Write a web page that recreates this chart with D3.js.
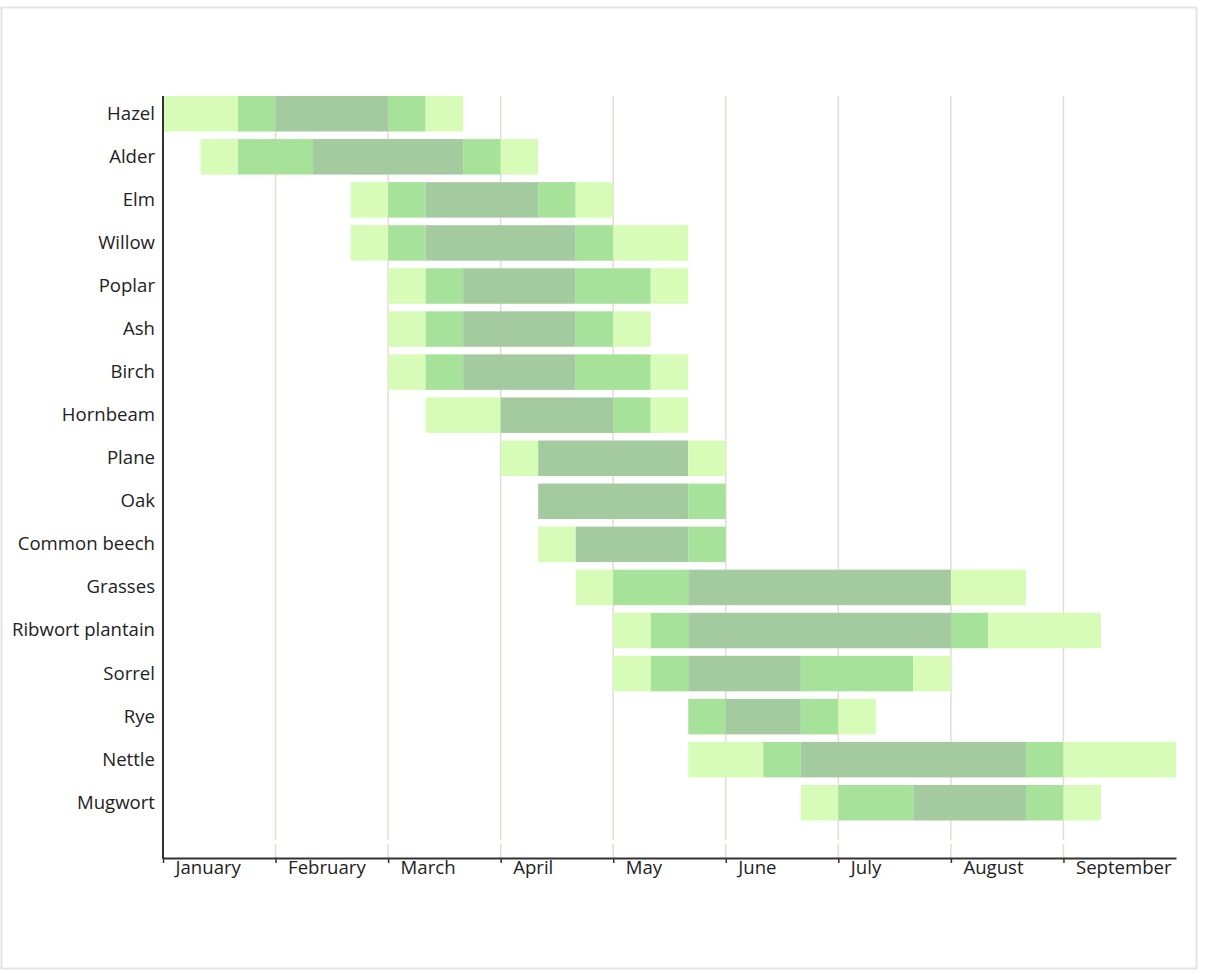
<!DOCTYPE html>
<html>
<head>
<meta charset="utf-8">
<script src="https://cdn.jsdelivr.net/npm/d3@7"></script>
<style>
  html, body { margin: 0; padding: 0; background: #fff; }
  svg { display: block; font-family: "Open Sans", "Noto Sans", sans-serif; }
</style>
</head>
<body>
<svg id="chart" width="1220" height="974"></svg>
<script>
// Months on the x axis (each month divided into thirds)
const months = ["January", "February", "March", "April", "May", "June", "July", "August", "September"];

// Plants (rows)
const plants = ["Hazel", "Alder", "Elm", "Willow", "Poplar", "Ash", "Birch", "Hornbeam", "Plane", "Oak",
  "Common beech", "Grasses", "Ribwort plantain", "Sorrel", "Rye", "Nettle", "Mugwort"];

// Intensity levels: 1 = low, 2 = medium, 3 = high
const levels = [1, 2, 3];

// Pollen seasons per plant: [start third-of-month, end third-of-month, level]
const hazel    = [[0, 2, 1], [2, 3, 2], [3, 6, 3], [6, 7, 2], [7, 8, 1]];
const alder    = [[1, 2, 1], [2, 4, 2], [4, 8, 3], [8, 9, 2], [9, 10, 1]];
const elm      = [[5, 6, 1], [6, 7, 2], [7, 10, 3], [10, 11, 2], [11, 12, 1]];
const willow   = [[5, 6, 1], [6, 7, 2], [7, 11, 3], [11, 12, 2], [12, 14, 1]];
const poplar   = [[6, 7, 1], [7, 8, 2], [8, 11, 3], [11, 13, 2], [13, 14, 1]];
const ash      = [[6, 7, 1], [7, 8, 2], [8, 11, 3], [11, 12, 2], [12, 13, 1]];
const birch    = [[6, 7, 1], [7, 8, 2], [8, 11, 3], [11, 13, 2], [13, 14, 1]];
const hornbeam = [[7, 9, 1], [9, 12, 3], [12, 13, 2], [13, 14, 1]];
const plane    = [[9, 10, 1], [10, 14, 3], [14, 15, 1]];
const oak      = [[10, 14, 3], [14, 15, 2]];
const beech    = [[10, 11, 1], [11, 14, 3], [14, 15, 2]];
const grasses  = [[11, 12, 1], [12, 14, 2], [14, 21, 3], [21, 23, 1]];
const ribwort  = [[12, 13, 1], [13, 14, 2], [14, 21, 3], [21, 22, 2], [22, 25, 1]];
const sorrel   = [[12, 13, 1], [13, 14, 2], [14, 17, 3], [17, 20, 2], [20, 21, 1]];
const rye      = [[14, 15, 2], [15, 17, 3], [17, 18, 2], [18, 19, 1]];
const nettle   = [[14, 16, 1], [16, 17, 2], [17, 23, 3], [23, 24, 2], [24, 27, 1]];
const mugwort  = [[17, 18, 1], [18, 20, 2], [20, 23, 3], [23, 24, 2], [24, 25, 1]];

const seasons = [hazel, alder, elm, willow, poplar, ash, birch, hornbeam, plane, oak,
  beech, grasses, ribwort, sorrel, rye, nettle, mugwort];

// ---- drawing ----
const svg = d3.select("#chart");

svg.append("rect")
  .attr("x", 1.5).attr("y", 7.5)
  .attr("width", 1195).attr("height", 961)
  .attr("fill", "none").attr("stroke", "#e3e3e3").attr("stroke-width", 2);

const plotLeft = 163, plotRight = 1176, plotTop = 96, axisY = 858;

const x = d3.scaleLinear().domain([0, months.length * 3]).range([plotLeft, plotRight]);
const y = d3.scaleBand().domain(plants).range([plotTop, 820.5]).paddingInner(0.1756).paddingOuter(0);
const color = d3.scaleOrdinal().domain(levels).range(["#d7fcb8", "#a7e29b", "#a4caa0"]);

const monthTicks = d3.range(0, months.length * 3, 3);

// gridlines
const grid = svg.append("g");
monthTicks.slice(1).forEach(t => {
  grid.append("line")
    .attr("x1", x(t)).attr("x2", x(t))
    .attr("y1", plotTop).attr("y2", 840)
    .attr("stroke", "#e8dad3").attr("stroke-width", 1.5);
  grid.append("line")
    .attr("x1", x(t)).attr("x2", x(t))
    .attr("y1", 844).attr("y2", axisY)
    .attr("stroke", "#e8dad3").attr("stroke-width", 1.5);
});

// bars
const rows = svg.append("g").selectAll("g")
  .data(plants.map((p, i) => ({ plant: p, segs: seasons[i] })))
  .join("g");

rows.selectAll("rect")
  .data(d => d.segs.map(s => ({ plant: d.plant, start: s[0], end: s[1], level: s[2] })))
  .join("rect")
  .attr("x", d => x(d.start))
  .attr("width", d => x(d.end) - x(d.start))
  .attr("y", d => y(d.plant))
  .attr("height", y.bandwidth())
  .attr("fill", d => color(d.level));

// x axis
const xAxis = svg.append("g")
  .attr("transform", `translate(0,${axisY})`)
  .call(d3.axisBottom(x)
    .tickValues(monthTicks)
    .tickFormat(t => months[t / 3])
    .tickSize(5)
    .tickSizeOuter(0));
xAxis.select(".domain").attr("stroke", "#333").attr("stroke-width", 2);
xAxis.selectAll(".tick line").attr("stroke", "#333").attr("stroke-width", 1.5);
xAxis.selectAll(".tick text")
  .attr("text-anchor", "start")
  .attr("x", 12)
  .attr("y", 2.5)
  .attr("fill", "#222")
  .style("font-size", "18.6px")
  .style("font-family", "'Open Sans', sans-serif");

// y axis
const yAxis = svg.append("g")
  .attr("transform", `translate(${plotLeft},0)`)
  .call(d3.axisLeft(y).tickSize(0).tickPadding(8));
yAxis.select(".domain").remove();
yAxis.selectAll(".tick text")
  .attr("fill", "#222")
  .style("font-size", "18.6px")
  .style("font-family", "'Open Sans', sans-serif");
svg.append("line")
  .attr("x1", plotLeft).attr("x2", plotLeft)
  .attr("y1", plotTop).attr("y2", axisY + 1)
  .attr("stroke", "#333").attr("stroke-width", 2);
</script>
</body>
</html>
